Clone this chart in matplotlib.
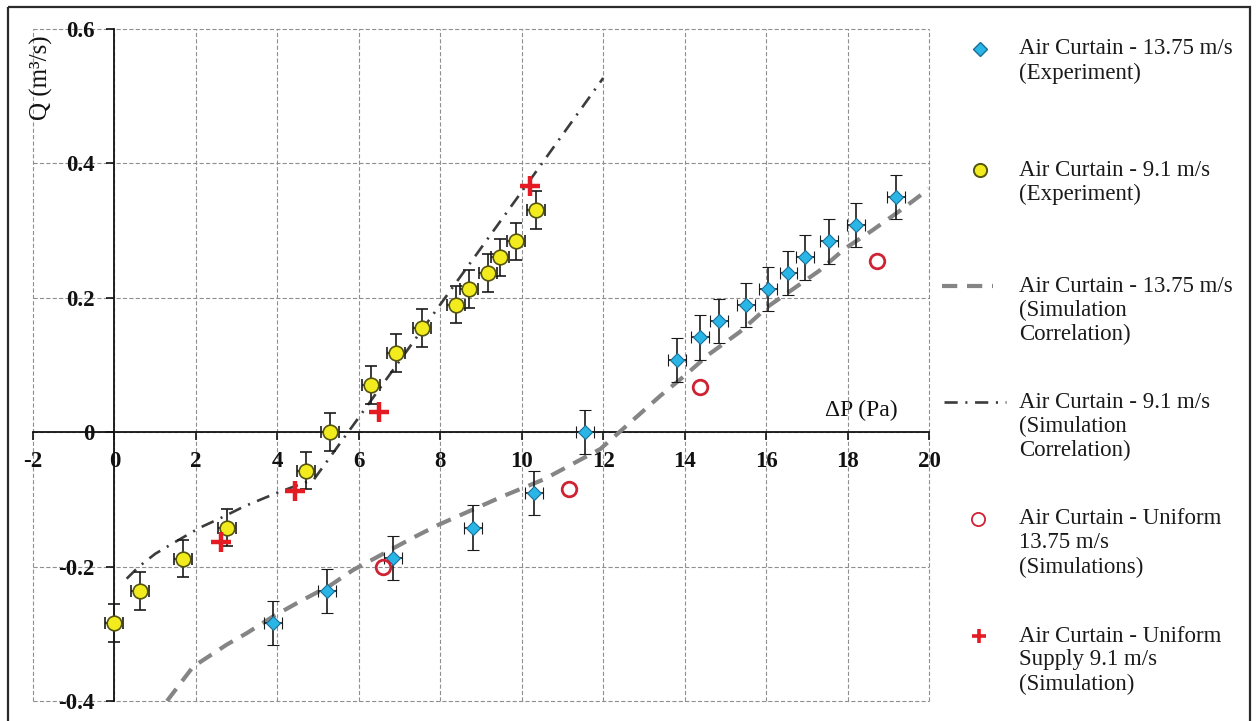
import matplotlib
matplotlib.use("Agg")
import matplotlib.pyplot as plt
from matplotlib.patches import Rectangle
from matplotlib.ticker import FixedLocator, FuncFormatter

# ---- data -------------------------------------------------------------
# Air curtain 13.75 m/s, experiment
exp_1375_dp = [3.89, 5.22, 6.84, 8.80, 10.31, 11.56, 13.81, 14.38, 14.84,
               15.50, 16.04, 16.55, 16.96, 17.54, 18.20, 19.18]
exp_1375_q = [-0.284, -0.236, -0.187, -0.142, -0.090, 0.000, 0.107, 0.141,
              0.165, 0.189, 0.213, 0.237, 0.260, 0.284, 0.308, 0.350]

# Air curtain 9.1 m/s, experiment
exp_91_dp = [0.00, 0.63, 1.68, 2.76, 4.70, 5.30, 6.30, 6.91, 7.56, 8.38,
             8.70, 9.17, 9.46, 9.85, 10.35]
exp_91_q = [-0.284, -0.236, -0.188, -0.142, -0.057, 0.000, 0.070, 0.118,
            0.155, 0.190, 0.213, 0.237, 0.260, 0.284, 0.331]

# measurement uncertainty
q_err_1375 = 0.033
q_err_91 = 0.028
dp_err = 0.22

# simulation correlation, 13.75 m/s
corr_1375_dp = [1.29, 1.93, 2.76, 3.25, 3.90, 4.55, 5.30, 5.86, 7.33, 7.95,
                9.55, 10.55, 11.93, 12.47, 13.40, 14.00, 14.60, 15.35, 16.07,
                17.30, 17.93, 18.60, 19.25, 20.00]
corr_1375_q = [-0.400, -0.349, -0.316, -0.299, -0.274, -0.252, -0.228, -0.205,
               -0.157, -0.138, -0.095, -0.070, -0.025, 0.004, 0.054, 0.084,
               0.116, 0.149, 0.188, 0.240, 0.273, 0.300, 0.328, 0.362]

# simulation correlation, 9.1 m/s
corr_91_dp = [0.30, 0.60, 1.00, 1.50, 2.10, 2.60, 3.20, 4.00, 4.90, 6.00,
              8.00, 10.00, 12.00]
corr_91_q = [-0.218, -0.200, -0.181, -0.163, -0.142, -0.128, -0.110, -0.090,
             -0.070, 0.022, 0.190, 0.358, 0.527]

# uniform supply simulations
unif_1375_dp = [6.59, 11.15, 14.37, 18.72]
unif_1375_q = [-0.200, -0.084, 0.068, 0.255]
unif_91_dp = [2.61, 4.43, 6.49, 10.20]
unif_91_q = [-0.163, -0.088, 0.030, 0.366]

x_ticks = [-2, 0, 2, 4, 6, 8, 10, 12, 14, 16, 18, 20]
y_ticks = [-0.4, -0.2, 0.0, 0.2, 0.4, 0.6]

legend_labels = [
    "Air Curtain - 13.75 m/s\n(Experiment)",
    "Air Curtain - 9.1 m/s\n(Experiment)",
    "Air Curtain - 13.75 m/s\n(Simulation\nCorrelation)",
    "Air Curtain - 9.1 m/s\n(Simulation\nCorrelation)",
    "Air Curtain - Uniform\n13.75 m/s\n(Simulations)",
    "Air Curtain - Uniform\nSupply 9.1 m/s\n(Simulation)",
]

# ---- styling ----------------------------------------------------------
plt.rcParams["font.family"] = ["Liberation Serif", "DejaVu Serif"]
plt.rcParams["axes.unicode_minus"] = False
plt.rcParams["lines.scale_dashes"] = False

BLUE, BLUE_EDGE = "#29b5e6", "#1b6f96"
YELLOW, YELLOW_EDGE = "#f2ec1e", "#55550f"
RED = "#e41b23"
RED_RING = "#cf2233"
GRAY_DASH = "#858585"
DARK_DASHDOT = "#3c3c3c"
DASH_1375 = (0, (11, 7))
DASHDOT_91 = (0, (9.5, 5.5, 1.5, 5.5))

W, H = 1256, 721
fig = plt.figure(figsize=(W / 100, H / 100), dpi=100)
fig.patch.set_facecolor("white")

# axes placed so that x in [-2, 20], y in [-0.4, 0.6] fill the plot box
px_left, px_right, px_top, px_bottom = 33, 929, 29, 701
ax = fig.add_axes([px_left / W, 1 - px_bottom / H,
                   (px_right - px_left) / W, (px_bottom - px_top) / H])
ax.set_xlim(-2, 20)
ax.set_ylim(-0.4, 0.6)
ax.set_facecolor("none")

for side in ("top", "right"):
    ax.spines[side].set_visible(False)
ax.spines["left"].set_position(("data", 0))
ax.spines["bottom"].set_position(("data", 0))
for side in ("left", "bottom"):
    ax.spines[side].set_linewidth(1.3)
    ax.spines[side].set_color("#111111")
    ax.spines[side].set_zorder(2.5)

ax.xaxis.set_major_locator(FixedLocator(x_ticks))
ax.yaxis.set_major_locator(FixedLocator(y_ticks))
ax.yaxis.set_major_formatter(FuncFormatter(lambda v, p: "0" if abs(v) < 1e-9 else f"{v:.1f}"))
ax.xaxis.set_major_formatter(FuncFormatter(lambda v, p: f"{v:.0f}"))
ax.tick_params(axis="both", direction="out", length=5.5, width=1.2, color="#111111",
               labelsize=16.5, labelcolor="#111111")
ax.tick_params(axis="y", pad=9)
ax.tick_params(axis="x", pad=8)
for lab in ax.get_xticklabels() + ax.get_yticklabels():
    lab.set_fontweight("bold")

ax.grid(True, color="#8f8f8f", linewidth=0.8, linestyle=(0, (3, 1.6)))
ax.set_axisbelow(True)
for gl in ax.get_xgridlines() + ax.get_ygridlines():
    gl.set_clip_on(False)

# correlation curves
ax.plot(corr_1375_dp, corr_1375_q, color=GRAY_DASH, linewidth=3.0,
        linestyle=DASH_1375, zorder=3)
ax.plot(corr_91_dp, corr_91_q, color=DARK_DASHDOT, linewidth=1.9,
        linestyle=DASHDOT_91, zorder=3)

# experimental points with error bars
ax.errorbar(exp_91_dp, exp_91_q, xerr=dp_err, yerr=q_err_91, fmt="o",
            markersize=10.5, markerfacecolor=YELLOW, markeredgecolor=YELLOW_EDGE,
            markeredgewidth=1.2, ecolor="#1a1a1a", elinewidth=1.2, capsize=4.5,
            capthick=1.2, zorder=4)
ax.errorbar(exp_1375_dp, exp_1375_q, xerr=dp_err, yerr=q_err_1375, fmt="D",
            markersize=7.0, markerfacecolor=BLUE, markeredgecolor=BLUE_EDGE,
            markeredgewidth=0.8, ecolor="#1a1a1a", elinewidth=1.2, capsize=4.5,
            capthick=1.2, zorder=4)

# uniform supply simulations
ax.plot(unif_1375_dp, unif_1375_q, "o", markersize=10.5, markerfacecolor="none",
        markeredgecolor=RED_RING, markeredgewidth=2.0, zorder=5)
ax.plot(unif_91_dp, unif_91_q, "+", markersize=15, color=RED,
        markeredgewidth=3.2, zorder=5)

# axis titles
ax.text(-1.8, 0.527, "Q (m³/s)", rotation=90, ha="center", va="center",
        fontsize=18, color="#111111")
ax.text(18.35, 0.033, "ΔP (Pa)", ha="center", va="center", fontsize=17,
        color="#111111")

# ---- overlay in pixel coordinates: frame and legend --------------------
ov = fig.add_axes([0, 0, 1, 1], zorder=10)
ov.set_xlim(0, W)
ov.set_ylim(H, 0)
ov.axis("off")
ov.patch.set_visible(False)

ov.add_patch(Rectangle((8, 7), 1242, 730, fill=False, edgecolor="#2b2b2b",
                       linewidth=1.6, clip_on=False))

entry_y = [49, 170, 286, 402, 519, 636]
pitch = 24
text_x = 1019
mk_x = 980

ov.plot([mk_x], [entry_y[0]], "D", markersize=7.2, markerfacecolor=BLUE,
        markeredgecolor=BLUE_EDGE, markeredgewidth=1.0)
ov.plot([mk_x], [entry_y[1]], "o", markersize=9.5, markerfacecolor=YELLOW,
        markeredgecolor=YELLOW_EDGE, markeredgewidth=1.4)
ov.plot([942, 993], [entry_y[2]] * 2, color=GRAY_DASH, linewidth=3.0,
        linestyle=(0, (11, 7)))
ov.plot([944, 1006], [entry_y[3]] * 2, color=DARK_DASHDOT, linewidth=1.9,
        linestyle=DASHDOT_91)
ov.plot([mk_x - 2], [entry_y[4]], "o", markersize=9.5, markerfacecolor="none",
        markeredgecolor=RED_RING, markeredgewidth=1.3)
ov.plot([mk_x - 1], [entry_y[5]], "+", markersize=10.5, color=RED,
        markeredgewidth=2.6)

for y0, label in zip(entry_y, legend_labels):
    for i, line in enumerate(label.split("\n")):
        ov.text(text_x, y0 + i * pitch, line, ha="left", va="center",
                fontsize=16.5, color="#1a1a1a")

fig.savefig("out.png", dpi=100, facecolor="white")
